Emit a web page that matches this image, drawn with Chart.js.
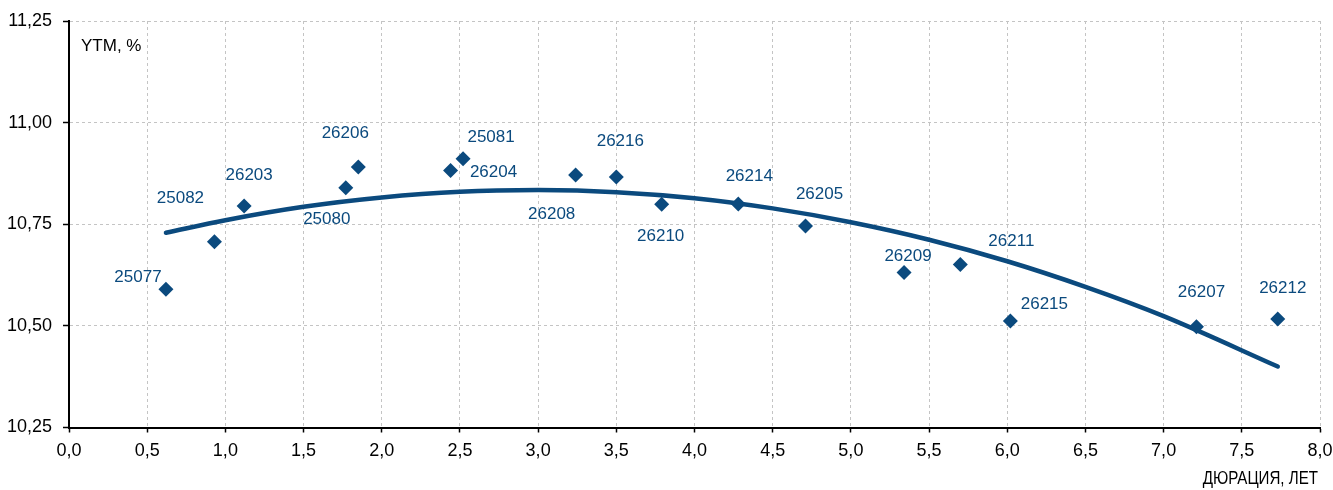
<!DOCTYPE html>
<html>
<head>
<meta charset="utf-8">
<script src="https://cdn.jsdelivr.net/npm/chart.js@4.4.1/dist/chart.umd.min.js"></script>
<style>
  html, body { margin: 0; padding: 0; background: #fff; }
  #wrap { width: 1333px; height: 490px; }
</style>
</head>
<body>
<div id="wrap"><canvas id="ytm" width="1333" height="490"></canvas></div>
<script>
// Облигации: дюрация (лет) и доходность YTM (%)
const bonds = ["25077", "25082", "26203", "25080", "26206", "26204", "25081", "26208", "26216",
  "26210", "26214", "26205", "26209", "26211", "26215", "26207", "26212"];
const duration = [0.62, 0.93, 1.12, 1.77, 1.85, 2.44, 2.52, 3.24, 3.50,
  3.79, 4.28, 4.71, 5.34, 5.70, 6.02, 7.21, 7.73];
const ytm = [10.59, 10.707, 10.795, 10.840, 10.891, 10.882, 10.911, 10.871, 10.866,
  10.799, 10.800, 10.746, 10.631, 10.651, 10.512, 10.498, 10.517];

// Кривая (тренд), точки
const curveX = [0.62, 1.0, 1.5, 2.0, 2.5, 3.0, 3.5, 4.0, 4.5, 5.0, 5.5, 6.0, 6.5, 7.0, 7.73];
const curveY = [10.729, 10.760, 10.793, 10.816, 10.830, 10.834, 10.829, 10.814, 10.789, 10.755,
  10.712, 10.659, 10.596, 10.524, 10.400];

// Смещения подписей относительно маркеров (px)
const labelOffsets = [[-28, -12], [-34, -43], [5, -31], [-19, 32], [-13, -34], [43, 2], [28, -21],
  [-24, 39], [4, -36], [-1, 32], [11, -28], [14, -32], [4, -16], [51, -23], [34, -17], [5, -34], [5, -31]];

const blue = "#0b4a7e";
const font = "Liberation Sans, Arial, sans-serif";

// Подписи точек + тексты осей
const labelsPlugin = {
  id: "bondLabels",
  afterDatasetsDraw(chart) {
    const ctx = chart.ctx;
    const meta = chart.getDatasetMeta(1);
    ctx.save();
    ctx.font = "17px " + font;
    ctx.fillStyle = blue;
    ctx.textAlign = "center";
    ctx.textBaseline = "middle";
    meta.data.forEach((pt, i) => {
      const off = labelOffsets[i];
      ctx.fillText(bonds[i], pt.x + off[0], pt.y + off[1]);
    });
    ctx.fillStyle = "#000";
    ctx.textAlign = "left";
    ctx.fillText("YTM, %", chart.chartArea.left + 12, chart.chartArea.top + 25);
    // подпись оси X чуть сжата по горизонтали
    ctx.font = "18px " + font;
    ctx.translate(chart.chartArea.right - 2, 479);
    ctx.scale(0.84, 1);
    ctx.textAlign = "right";
    ctx.fillText("ДЮРАЦИЯ, ЛЕТ", 0, 0);
    ctx.restore();
  }
};

const ctx = document.getElementById("ytm").getContext("2d");
new Chart(ctx, {
  type: "scatter",
  data: {
    datasets: [
      {
        type: "line",
        data: curveX.map((x, i) => ({ x: x, y: curveY[i] })),
        borderColor: blue,
        borderWidth: 4.5,
        borderCapStyle: "round",
        pointRadius: 0,
        cubicInterpolationMode: "monotone",
        fill: false,
        order: 2
      },
      {
        data: duration.map((x, i) => ({ x: x, y: ytm[i] })),
        pointStyle: "rectRot",
        pointRadius: 7.5,
        backgroundColor: blue,
        borderColor: blue,
        borderWidth: 0,
        order: 1
      }
    ]
  },
  options: {
    responsive: false,
    animation: false,
    layout: { padding: { top: 21, right: 13, left: 0, bottom: 0 } },
    plugins: { legend: { display: false }, tooltip: { enabled: false } },
    scales: {
      x: {
        type: "linear",
        min: 0, max: 8,
        afterFit: (s) => { s.height = 62.5; s.paddingLeft = 0; s.paddingRight = 0; },
        ticks: {
          stepSize: 0.5,
          color: "#000",
          font: { family: font, size: 18 },
          padding: 8,
          maxRotation: 0,
          callback: (v) => v.toFixed(1).replace(".", ",")
        },
        grid: { color: "#c4c4c4", tickColor: "#000", tickLength: 5, tickWidth: 1.5 },
        border: { color: "#000", width: 2, dash: [3, 3] }
      },
      y: {
        min: 10.25, max: 11.25,
        afterFit: (s) => { s.width = 69; s.paddingTop = 0; s.paddingBottom = 0; },
        ticks: {
          stepSize: 0.25,
          color: "#000",
          font: { family: font, size: 18 },
          padding: 11,
          callback: (v) => v.toFixed(2).replace(".", ",")
        },
        grid: { color: "#c4c4c4", tickColor: "#000", tickLength: 6, tickWidth: 1.5 },
        border: { color: "#000", width: 2, dash: [3, 3] }
      }
    }
  },
  plugins: [labelsPlugin]
});
</script>
</body>
</html>
